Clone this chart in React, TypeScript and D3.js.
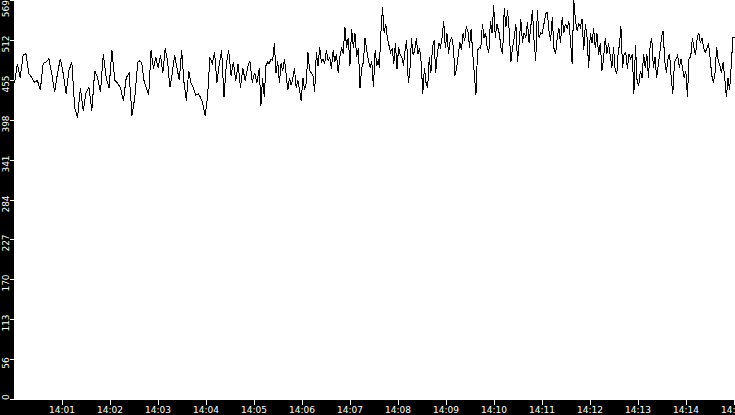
import * as d3 from "d3";

const W = 735;
const H = 415;

const segStartSec = [0, 156, 308, 456, 606, 756];
const segEndSec = [154, 306, 455, 605, 755, 900];

const segA = [
  451, 479, 459, 491, 493, 465, 459, 452, 455, 441, 479, 481, 486, 465, 438, 465, 486, 465, 436, 469, 481, 416,
  402, 444, 412, 438, 445, 412, 469, 459, 438, 493, 459, 444, 498, 455, 451, 444, 426, 459, 465, 405, 431, 481,
];
const segB = [
  483, 481, 455, 444, 434, 498, 472, 488, 473, 491, 465, 501, 483, 445, 465, 491, 473, 455, 498, 452, 426, 469,
  451, 444, 434, 436, 431, 422, 405, 431, 488, 479, 495, 452, 479, 498, 431, 479, 498, 462, 481, 455, 479, 445,
  472, 455, 473, 483, 452, 466, 452, 473,
];
const segC = [
  419, 459, 431, 476, 481, 479, 486, 483, 508, 466, 483, 451, 479, 469, 486, 465, 441, 459, 448, 458, 472, 444,
  455, 441, 426, 459, 441, 452, 495, 469, 466, 462, 438, 495, 476, 502, 481, 486, 479, 498, 483, 488, 472, 498,
  481, 493, 466, 488, 502, 493, 531, 502, 516, 476, 529, 502, 522, 488, 501, 444, 473, 481, 516, 498, 483, 473,
  483, 445, 498, 476, 486,
];
const segD = [
  473, 523, 559, 523, 536, 516, 505, 495, 501, 479, 508, 472, 502, 491, 488, 476, 498, 512, 451, 469, 515, 491,
  498, 515, 493, 501, 481, 436, 473, 452, 444, 488, 465, 502, 512, 466, 493, 508, 502, 516, 540, 501, 522, 493,
  512, 516, 502, 462, 473, 491, 509, 498, 522, 512, 531, 526, 502, 529, 493, 465, 434, 498, 502, 501, 536, 516,
  523, 501, 495, 540, 522, 562, 516, 536, 526,
];
const segE = [
  522, 502, 493, 558, 531, 555, 526, 481, 502, 516, 536, 481, 508, 543, 509, 523, 516, 538, 508, 531, 555, 512,
  483, 555, 516, 523, 522, 536, 550, 552, 526, 512, 545, 501, 493, 516, 529, 508, 545, 523, 536, 529, 540, 512,
  479, 569, 540, 526, 536, 531, 543, 498, 536, 516, 473, 522, 508, 529, 501, 522, 491, 509, 469, 486, 516, 493,
  508, 491, 473, 502, 469, 465, 502,
];
const segF = [
  502, 533, 473, 493, 495, 472, 493, 486, 493, 436, 505, 452, 448, 469, 458, 493, 473, 493, 459, 505, 516, 473,
  488, 459, 476, 495, 516, 526, 483, 466, 486, 493, 458, 436, 481, 486, 491, 473, 486, 472, 458, 469, 431, 488,
  488, 515, 502, 491, 516, 523, 508, 516, 501, 495, 501, 508, 486, 462, 452, 466, 502, 483, 476, 466, 481, 459,
  431, 459, 441, 476, 516, 516,
];

const yMax = 569;
const yTickLabels = ["0", "56", "113", "170", "227", "284", "341", "398", "455", "512", "569"];
const xTickLabels = [
  "14:01", "14:02", "14:03", "14:04", "14:05", "14:06", "14:07", "14:08",
  "14:09", "14:10", "14:11", "14:12", "14:13", "14:14", "14:15",
];

const t0 = new Date(2020, 0, 1, 14, 0, 0);
const toDate = (sec: number) => new Date(t0.getTime() + sec * 1000);
const parseHM = d3.timeParse("%H:%M");

type Pt = { t: Date; v: number };

const points: Pt[] = [segA, segB, segC, segD, segE, segF].flatMap((seg, i) => {
  const step = (segEndSec[i] - segStartSec[i]) / (seg.length - 1);
  return seg.map((v, j) => ({ t: toDate(segStartSec[i] + j * step), v }));
});

const left = 14;
const bottom = 400;

export default function App() {
  const x = d3.scaleTime().domain([toDate(0), toDate(900)]).range([left, left + 720]);
  const y = d3.scaleLinear().domain([0, yMax]).range([bottom - 1, 0]);

  const line = d3
    .line<Pt>()
    .x((d) => x(d.t) + 0.5)
    .y((d) => y(d.v) + 0.5);

  const font = "'DejaVu Sans', sans-serif";
  const charW = 5.7;

  return (
    <svg
      width={W}
      height={H}
      style={{ position: "absolute", left: 0, top: 0, background: "#fff" }}
    >
      <defs>
        <clipPath id="plot">
          <rect x={left} y={0} width={W - left} height={bottom} />
        </clipPath>
      </defs>
      <rect x={0} y={0} width={W} height={H} fill="#fff" />
      <path
        d={line(points) ?? ""}
        fill="none"
        stroke="#000"
        strokeWidth={1}
        shapeRendering="crispEdges"
        clipPath="url(#plot)"
      />
      <rect x={0} y={0} width={left} height={H} fill="#000" />
      <rect x={0} y={bottom} width={W} height={H - bottom} fill="#000" />

      {yTickLabels.map((lab, i) => {
        const ty = Math.round(y((i * yMax) / 10));
        const half = (lab.length * charW) / 2;
        const cy = Math.max(half, Math.min(bottom - half, ty + 4));
        return (
          <g key={lab}>
            <line x1={10} x2={left} y1={ty + 0.5} y2={ty + 0.5} stroke="#fff" strokeWidth={1} />
            <text
              transform={`translate(9,${cy}) rotate(-90)`}
              textAnchor="middle"
              fill="#fff"
              fontFamily={font}
              fontSize={9}
            >
              {lab}
            </text>
          </g>
        );
      })}

      {xTickLabels.map((lab) => {
        const hm = parseHM(lab)!;
        const tx = Math.round(x(toDate(hm.getHours() * 3600 + hm.getMinutes() * 60 - 14 * 3600)));
        return (
          <g key={lab}>
            <line x1={tx + 0.5} x2={tx + 0.5} y1={bottom} y2={bottom + 5} stroke="#fff" strokeWidth={1} />
            <text x={tx} y={413} textAnchor="middle" fill="#fff" fontFamily={font} fontSize={9}>
              {lab}
            </text>
          </g>
        );
      })}
    </svg>
  );
}
